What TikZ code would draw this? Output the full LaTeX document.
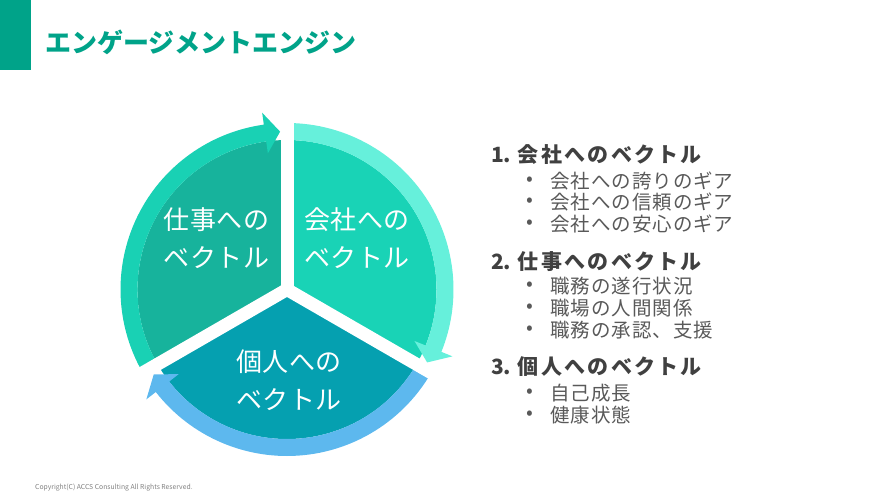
\documentclass[tikz,border=0pt]{standalone}
\usepackage{fontspec}
\setmainfont{Noto Sans CJK JP}
\usetikzlibrary{positioning}
\definecolor{engteal}{HTML}{00A389}
\definecolor{secright}{HTML}{19D3B6}
\definecolor{ringright}{HTML}{66F0DB}
\definecolor{secleft}{HTML}{17B39C}
\definecolor{ringleft}{HTML}{19D1B4}
\definecolor{secbottom}{HTML}{05A0B0}
\definecolor{ringbottom}{HTML}{5DB8EE}
\definecolor{headgrey}{HTML}{404040}
\definecolor{itemgrey}{HTML}{595959}
\tikzset{
  titletxt/.style={anchor=west, inner sep=0pt, text=engteal,
                   font=\bfseries\fontsize{26}{30}\selectfont},
  pietxt/.style={align=center, inner sep=0pt, text=white,
                 font=\fontsize{26}{38}\selectfont\addfontfeature{LetterSpace=2}},
  headtxt/.style={anchor=west, inner sep=0pt, text=headgrey,
                  font=\bfseries\fontsize{21}{25}\selectfont},
  itemtxt/.style={anchor=west, inner sep=0pt, text=itemgrey,
                  font=\fontsize{19.5}{23}\selectfont\addfontfeature{LetterSpace=5}},
  dottxt/.style={inner sep=0pt, text=itemgrey, font=\fontsize{20}{21}\selectfont},
  gap/.style={draw=white, line width=13pt},
}
% ring with arrow head: start angle, base angle, tip angle, colour
\newcommand\ringarrow[4]{%
  \fill[#4] (#1:166.5) arc (#1:#2:166.5) -- (#2:178.5) -- (#3:158)
    -- (#2:137.5) -- (#2:149.5) arc (#2:#1:149.5) -- cycle;}
\newcommand\wide[1]{{\addfontfeature{LetterSpace=11}#1}}
\begin{document}
\begin{tikzpicture}[x=1pt, y=1pt]
  \useasboundingbox (0,0) rectangle (878,501);
  \fill[engteal] (0,431) rectangle (31,501);
  \node[titletxt] (title) at (45,458.5) {エンゲージメントエンジン};

  % cycle of the three vectors
  \begin{scope}[shift={(287,211.5)}]
    \coordinate (c) at (0,0);
    \fill[secright] (c) -- (90:149.5) arc (90:-30:149.5) -- cycle;
    \fill[secleft] (c) -- (210:149.5) arc (210:90:149.5) -- cycle;
    \fill[secbottom] (c) -- (-30:149.5) arc (-30:-150:149.5) -- cycle;
    \ringarrow{90}{-22}{-27.5}{ringright}
    \ringarrow{210}{98}{92.5}{ringleft}
    \ringarrow{-30}{-142}{-147.5}{ringbottom}
    \coordinate (g1) at (90:185);
    \coordinate (g2) at (210:185);
    \coordinate (g3) at (-30:185);
    \draw[gap] (c) -- (g1);
    \draw[gap] (c) -- (g2);
    \draw[gap] (c) -- (g3);
  \end{scope}
  \node[pietxt] (work) at (216.5,262.5) {仕事への\\ベクトル};
  \node[pietxt] (company) at (357,262.5) {会社への\\ベクトル};
  \node[pietxt] (self) at (289,121) {個人への\\ベクトル};

  % list on the right
  \node[headtxt] (h1) at (491,346) {1. \wide{会社へのベクトル}};
  \node[headtxt] (h2) at (491,239) {2. \wide{仕事へのベクトル}};
  \node[headtxt] (h3) at (491,134) {3. \wide{個人へのベクトル}};
  \foreach \y/\txt [count=\i] in {320/会社への誇りのギア, 298.5/会社への信頼のギア,
      277/会社への安心のギア, 215/職務の遂行状況, 193/職場の人間関係,
      171/職務の承認、支援, 108/自己成長, 86/健康状態} {
    \node[dottxt] (d\i) at (529.5,\y) {•};
    \node[itemtxt] (t\i) at (550,\y) {\txt};
  }

  \node[anchor=west, inner sep=0pt, text=black!50, font=\fontsize{6.8}{8}\selectfont]
    (copy) at (35,13) {Copyright(C) ACCS Consulting All Rights Reserved.};
\end{tikzpicture}
\end{document}
